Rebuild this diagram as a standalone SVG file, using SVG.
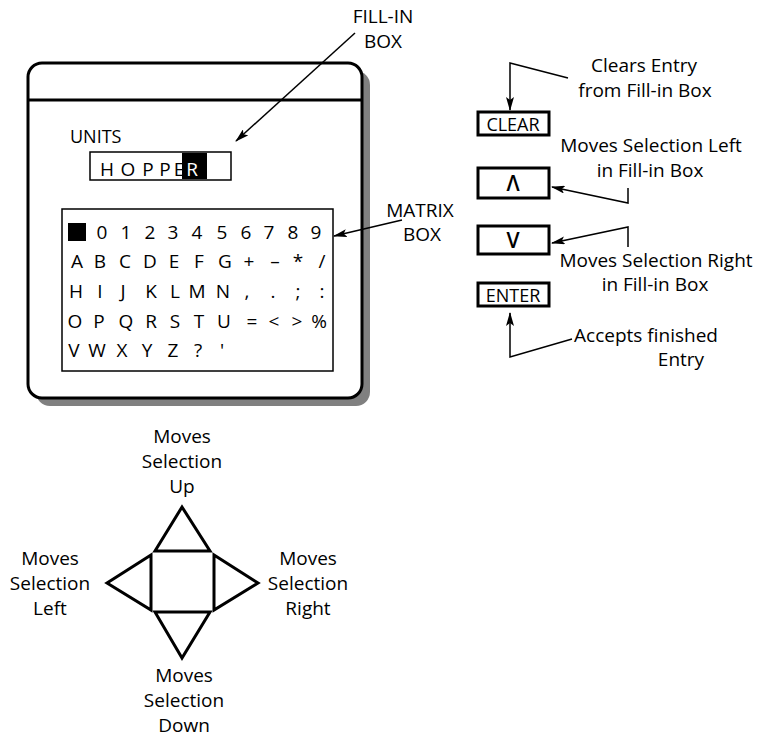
<svg xmlns="http://www.w3.org/2000/svg" width="761" height="738" viewBox="0 0 761 738">
  <defs>
    <marker id="arrow" viewBox="0 0 14 8" refX="13" refY="4" markerWidth="14" markerHeight="8" markerUnits="userSpaceOnUse" orient="auto">
      <path d="M0,0 L14,4 L0,8 L3,4 Z" fill="#000"/>
    </marker>
  </defs>
  <style>
    text { font-family: "Open Sans", "Liberation Sans", sans-serif; fill: #000; }
    .lbl { font-size: 19px; text-anchor: middle; }
    .mx { font-size: 19px; text-anchor: middle; }
    .btn { fill: #fff; stroke: #000; stroke-width: 3; }
    .btxt { font-size: 18px; text-anchor: middle; }
    .sym { font-size: 21px; text-anchor: middle; font-weight: 600; }
    .conn { fill: none; stroke: #000; stroke-width: 1.5; marker-end: url(#arrow); }
    .pad { fill: #fff; stroke: #000; stroke-width: 3; stroke-linejoin: miter; }
  </style>

  <!-- display screen -->
  <g id="screen">
    <rect x="36" y="71" width="334" height="335" rx="14" fill="#808080"/>
    <rect x="28" y="63" width="334" height="335" rx="14" fill="#fff" stroke="#000" stroke-width="3"/>
    <line x1="28" y1="100" x2="362" y2="100" stroke="#000" stroke-width="3"/>
    <text x="70" y="143" font-size="18">UNITS</text>
  </g>

  <!-- fill-in box -->
  <g id="fill-in-box">
    <rect x="90" y="152" width="141" height="28" fill="#fff" stroke="#000" stroke-width="1.5"/>
    <rect x="182" y="153" width="25" height="26" fill="#000"/>
    <text x="107 128 148 165 179" y="176" font-size="19" text-anchor="middle">HOPPE</text>
    <text x="192" y="176" font-size="19" text-anchor="middle" style="fill:#fff">R</text>
  </g>

  <!-- matrix box -->
  <g id="matrix-box">
    <rect x="62" y="209" width="271" height="162" fill="#fff" stroke="#000" stroke-width="1.5"/>
    <rect x="68" y="223" width="18" height="18" fill="#000"/>
    <text class="mx" x="102 126 150 173 197 222 246 269 293 316" y="239">0123456789</text>
    <text class="mx" x="77 100 125 150 174 199 225 249 275 298 322" y="268">ABCDEFG+–*/</text>
    <text class="mx" x="76 100 123 151 175 197 223 247 273 298 322" y="298">HIJKLMN,.;:</text>
    <text class="mx" x="75 99 126 151 175 199 224 252 274 297" y="328">OPQRSTU=&lt;&gt;</text>
    <text class="mx" x="319" y="328" font-size="15">%</text>
    <text class="mx" x="74 97 122 147 173 198 222" y="357">VWXYZ?'</text>
  </g>

  <!-- callout labels -->
  <g id="label-fill-in">
    <text class="lbl" x="383" y="23" font-size="17">FILL-IN</text>
    <text class="lbl" x="383" y="48" font-size="17">BOX</text>
  </g>
  <g id="label-matrix">
    <text class="lbl" x="420" y="217" font-size="17">MATRIX</text>
    <text class="lbl" x="422" y="241" font-size="17">BOX</text>
  </g>

  <!-- keys -->
  <g id="key-clear">
    <rect class="btn" x="478" y="112" width="71" height="23"/>
    <text class="btxt" x="513" y="131">CLEAR</text>
  </g>
  <g id="key-left">
    <rect class="btn" x="478" y="168" width="71" height="30"/>
    <text class="sym" x="513" y="191">Λ</text>
  </g>
  <g id="key-right">
    <rect class="btn" x="478" y="226" width="71" height="28"/>
    <text class="sym" x="513" y="248">V</text>
  </g>
  <g id="key-enter">
    <rect class="btn" x="478" y="283" width="71" height="23"/>
    <text class="btxt" x="513" y="302">ENTER</text>
  </g>

  <!-- key descriptions -->
  <g id="desc-clear">
    <text class="lbl" x="644" y="72">Clears Entry</text>
    <text class="lbl" x="645" y="97">from Fill-in Box</text>
  </g>
  <g id="desc-left">
    <text class="lbl" x="651" y="152">Moves Selection Left</text>
    <text class="lbl" x="650" y="177">in Fill-in Box</text>
  </g>
  <g id="desc-right">
    <text class="lbl" x="656" y="267">Moves Selection Right</text>
    <text class="lbl" x="655" y="291">in Fill-in Box</text>
  </g>
  <g id="desc-enter">
    <text class="lbl" x="646" y="342">Accepts finished</text>
    <text class="lbl" x="681" y="366">Entry</text>
  </g>

  <!-- direction pad -->
  <g id="dpad">
    <polygon class="pad" points="182,507 210,551 155,551"/>
    <polygon class="pad" points="107,583 151,555 151,610"/>
    <polygon class="pad" points="258,583 214,555 214,610"/>
    <polygon class="pad" points="182,658 155,612 210,612"/>
  </g>
  <g id="desc-up">
    <text class="lbl" x="182" y="443">Moves</text>
    <text class="lbl" x="182" y="468">Selection</text>
    <text class="lbl" x="182" y="493">Up</text>
  </g>
  <g id="desc-pad-left">
    <text class="lbl" x="50" y="565">Moves</text>
    <text class="lbl" x="50" y="590">Selection</text>
    <text class="lbl" x="50" y="615">Left</text>
  </g>
  <g id="desc-pad-right">
    <text class="lbl" x="308" y="565">Moves</text>
    <text class="lbl" x="308" y="590">Selection</text>
    <text class="lbl" x="308" y="615">Right</text>
  </g>
  <g id="desc-down">
    <text class="lbl" x="184" y="682">Moves</text>
    <text class="lbl" x="184" y="707">Selection</text>
    <text class="lbl" x="184" y="732">Down</text>
  </g>

  <!-- connectors -->
  <g id="connectors">
    <line class="conn" x1="355" y1="33" x2="236" y2="141"/>
    <line class="conn" x1="402" y1="220" x2="334" y2="236"/>
    <polyline class="conn" points="568,78 510,63 510,110"/>
    <polyline class="conn" points="628,188 628,203 552,187"/>
    <polyline class="conn" points="628,247 628,227 552,243"/>
    <polyline class="conn" points="572,339 510,357 510,313"/>
  </g>
</svg>
